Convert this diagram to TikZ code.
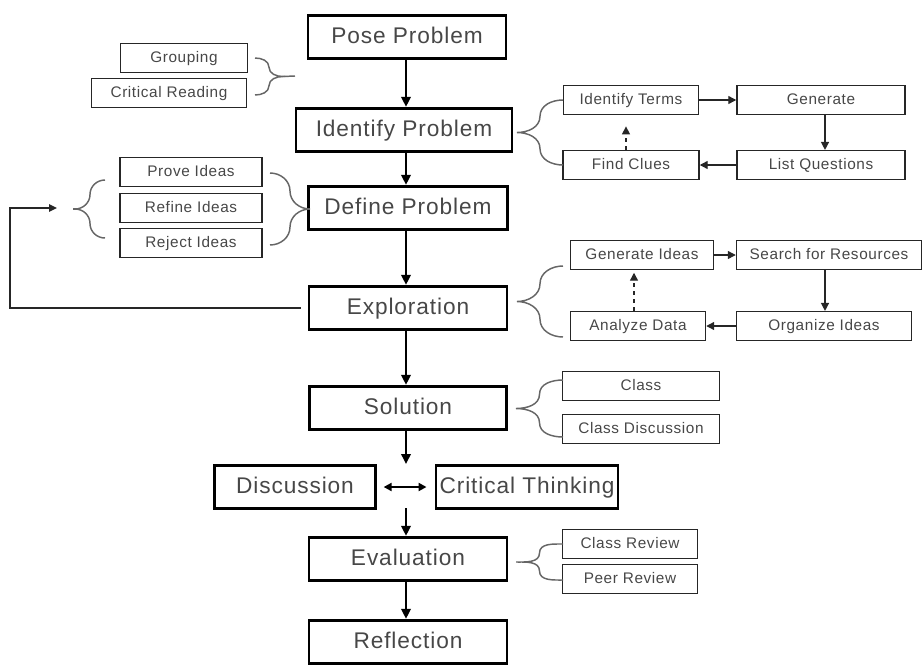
\documentclass[tikz,border=0pt]{standalone}
\usepackage{fontspec}
\setmainfont{Liberation Sans}
\usetikzlibrary{arrows.meta,calc}

\tikzset{
  stage/.style={draw=black, line width=2.2pt, text=black!72, inner sep=0pt,
    font=\fontsize{17}{20}\selectfont\addfontfeature{LetterSpace=4},
    text height=12.2pt, text depth=3pt,
    minimum width={#1*0.75pt}, minimum height=32.5pt},
  task/.style={draw=black!85, line width=1.1pt, text=black!72, inner sep=0pt,
    font=\fontsize{11.5}{13}\selectfont\addfontfeature{LetterSpace=4},
    text height=8.2pt, text depth=1pt,
    minimum width={#1*0.75pt}, minimum height=21.5pt},
  flow/.style={-{Triangle[length=7.5pt,width=7pt]}, line width=1.8pt},
  link/.style={-{Triangle[length=6pt,width=6pt]}, line width=1pt, black!85},
  curl/.style={draw=black!60, line width=1.1pt},
}
% braces: end points, then width (tip side)
\newcommand{\rcurl}[3]{%
  \draw[curl] (#1) to[out=0,in=90] ($(#1)!.25!(#2)+(#3/2,0)$)
    to[out=-90,in=180] ($(#1)!.5!(#2)+(#3,0)$)
    to[out=180,in=90] ($(#1)!.75!(#2)+(#3/2,0)$)
    to[out=-90,in=0] (#2);}
\newcommand{\lcurl}[3]{%
  \draw[curl] (#1) to[out=180,in=90] ($(#1)!.25!(#2)+(-#3/2,0)$)
    to[out=-90,in=0] ($(#1)!.5!(#2)+(-#3,0)$)
    to[out=0,in=90] ($(#1)!.75!(#2)+(-#3/2,0)$)
    to[out=-90,in=180] (#2);}

\begin{document}
\begin{tikzpicture}[x=0.75pt,y=-0.75pt]
\useasboundingbox (0,0) rectangle (924,664);

% main column
\node[stage=198] (pose) at (407,37) {Pose Problem};
\node[stage=216] (ident) at (404,130) {Identify Problem};
\node[stage=199] (defn) at (408,208) {Define Problem};
\node[stage=198] (explor) at (408,308) {Exploration};
\node[stage=197] (solut) at (408,408) {Solution};
\node[stage=161] (disc) at (295,487) {Discussion};
\node[stage=182] (crit) at (527,487) {Critical Thinking};
\node[stage=198] (evalu) at (408,559) {Evaluation};
\node[stage=198] (reflect) at (408,642) {Reflection};

\draw[flow] (pose.south -| 406,0) -- (ident.north -| 406,0);
\draw[flow] (ident.south -| 406,0) -- (defn.north -| 406,0);
\draw[flow] (defn.south -| 406,0) -- (explor.north -| 406,0);
\draw[flow] (explor.south -| 406,0) -- (solut.north -| 406,0);
\coordinate (midtop) at (406,464);
\coordinate (midbot) at (406,508);
\draw[flow] (solut.south -| 406,0) -- (midtop);
\draw[flow] (midbot) -- (evalu.north -| 406,0);
\draw[flow] (evalu.south -| 406,0) -- (reflect.north -| 406,0);
\draw[{Triangle[length=6pt,width=6pt]}-{Triangle[length=6pt,width=6pt]}, line width=1.5pt,
  shorten <=5pt, shorten >=6pt] (disc.east) -- (crit.west);

% left side
\node[task=127] (grp) at (184,58) {Grouping};
\node[task=155] (crd) at (169,93) {Critical Reading};
\node[task=142] (prv) at (191,172) {Prove Ideas};
\node[task=142] (rfn) at (191,208) {Refine Ideas};
\node[task=142] (rjt) at (191,243) {Reject Ideas};

\coordinate (grpT) at (255,58);
\coordinate (grpB) at (255,95);
\rcurl{grpT}{grpB}{28}
\coordinate (grpS) at (295,76);
\draw[curl] ($(grpT)!.5!(grpB)+(28,0)$) -- (grpS);
\coordinate (prvT) at (270,173);
\coordinate (prvB) at (270,245);
\rcurl{prvT}{prvB}{40}
\coordinate (backT) at (105,180);
\coordinate (backB) at (105,238);
\lcurl{backT}{backB}{30}
\draw[curl] ($(backT)!.5!(backB)+(-30,0)$) -- ++(-2,0);

% back to define stage
\coordinate (loopin) at (57,208);
\draw[-{Triangle[length=6pt,width=5.5pt]}, line width=1.1pt, black!85]
  ([xshift=-5pt]explor.west) -| ($(loopin)+(-47,0)$) -- (loopin);

% identify group
\node[task=135] (idt) at (631,100) {Identify Terms};
\node[task=168] (gen) at (821,100) {Generate};
\node[task=136] (fnd) at (631,165) {Find Clues};
\node[task=168] (lsq) at (821,165) {List Questions};
\coordinate (idtT) at (563,100);
\coordinate (idtB) at (563,165);
\lcurl{idtT}{idtB}{46}
\draw[link] (idt) -- (gen);
\draw[link] (gen.south -| 825,0) -- (lsq.north -| 825,0);
\draw[link] (lsq) -- (fnd);
\draw[link, dashed, shorten >=8.5pt] (fnd.north -| 626,0) -- (idt.south -| 626,0);

% exploration group
\node[task=143] (gid) at (642,255) {Generate Ideas};
\node[task=185] (sfr) at (829,255) {Search for Resources};
\node[task=135] (ana) at (638,326) {Analyze Data};
\node[task=175] (org) at (824,326) {Organize Ideas};
\coordinate (gidT) at (563,266);
\coordinate (gidB) at (563,337);
\lcurl{gidT}{gidB}{46}
\draw[link] (gid) -- (sfr);
\draw[link] (sfr.south -| 825,0) -- (org.north -| 825,0);
\draw[link] (org) -- (ana);
\draw[link, dashed, shorten >=2pt] (ana.north -| 634,0) -- (gid.south -| 634,0);

% solution group
\node[task=157] (cls) at (641,386) {Class};
\node[task=157] (cld) at (641,429) {Class Discussion};
\coordinate (clsT) at (563,380);
\coordinate (clsB) at (563,437);
\lcurl{clsT}{clsB}{47}

% evaluation group
\node[task=135] (crv) at (630,544) {Class Review};
\node[task=135] (prr) at (630,579) {Peer Review};
\coordinate (crvT) at (563,544);
\coordinate (crvB) at (563,580);
\lcurl{crvT}{crvB}{47}
\end{tikzpicture}
\end{document}
